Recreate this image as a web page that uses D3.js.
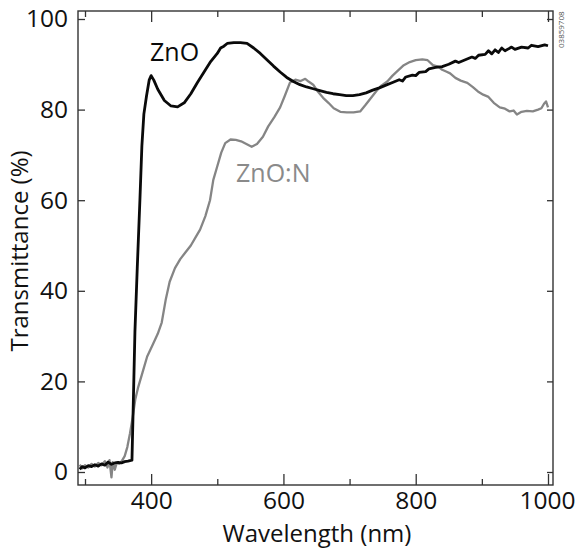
<!DOCTYPE html>
<html>
<head>
<meta charset="utf-8">
<script src="https://cdn.jsdelivr.net/npm/d3@7"></script>
<style>
  html, body { margin: 0; padding: 0; background: #fff; }
  svg { display: block; font-family: "Open Sans", "Noto Sans", sans-serif; }
</style>
</head>
<body>
<svg id="chart" width="575" height="552"></svg>
<script>
// ---- data ----
const seriesNames = ["ZnO", "ZnO:N"];
const znoWavelength = [292,296,300,305,310,315,320,325,330,335,340,345,350,355,360,365,371,373,375.5,379,383,386,389,393,397,400,404,410,420,430,440,450,460,470,480,490,500,505,510,515,525,535,545,555,565,575,585,595,605,615,625,635,645,655,665,675,685,695,705,715,725,735,745,755,765,775,780,785,795,800,805,815,820,830,840,850,860,865,875,885,890,895,905,910,915,920,925,930,935,945,950,960,970,975,985,995,1000];
const znoT = [0.6,1.2,0.9,1.4,1.2,1.6,1.3,1.8,1.5,2.2,1.7,2.0,2.1,2.0,2.3,2.4,2.6,15,31,45,60,72,79,83,86.5,87.5,86.5,84.5,82,80.8,80.6,81.5,83.5,86,88.3,90.6,92.4,93.6,94,94.6,94.8,94.8,94.6,93.6,92.4,91,89.6,88.3,87.1,86.2,85.5,85,84.6,84.2,83.8,83.5,83.3,83.1,83.1,83.3,83.7,84.3,84.8,85.4,86,86.6,86.3,87.2,87.6,87.5,88.2,88.4,89,89.3,89.5,90,90.7,90.4,91,91.6,91.3,92,92.2,93,92.3,93.2,92.6,93.6,93,93.8,93.3,93.8,93.6,94.2,93.9,94.3,94.1];
const znonWavelength = [292,296,300,305,310,315,320,325,330,334,337,340,342,345,348,352,356,360,364,368,372,376,380,387,394,402,410,416,422,428,436,444,452,460,468,474,482,489,494,500,506,512,520,528,536,544,552,560,569,577,586,595,602,610,618,626,633,638,645,652,660,668,676,686,696,706,716,724,732,740,748,757,765,773,782,791,800,810,818,826,834,840,846,852,860,868,878,886,894,902,910,918,927,935,942,948,953,960,968,977,985,990,994,997,1000];
const znonT = [1.6,0.8,1.5,1.0,1.8,1.2,2.0,1.5,2.4,1.0,2.6,-1.2,2.2,0.5,2.0,1.8,2.5,3.5,5.5,8.5,12,16,18.5,22,25.5,28,30.5,33,38,42,45,47,48.5,50,52,53.5,56.5,60,64.5,67.5,70.5,72.6,73.4,73.3,73,72.4,71.8,72.4,74,76.3,78.3,80.5,83,86,86.6,86.3,86.8,86.2,85.5,84,82.6,81.5,80.3,79.5,79.4,79.4,79.6,81,82.5,84,85.3,86.2,87.5,88.6,89.8,90.5,90.9,91.1,90.9,89.8,89.5,88.8,88.4,88,87,86.4,85.9,85,84,83.3,82.8,81.5,80.5,80.2,79.6,79.8,78.9,79.5,79.7,79.6,80,80.3,81.3,81.8,80.5];
const xMajorTicks = [400, 600, 800, 1000];
const xMinorTicks = [300, 500, 700, 900];
const yTicks = [0, 20, 40, 60, 80, 100];
const xTitle = "Wavelength (nm)";
const yTitle = "Transmittance (%)";
const figureId = "03859708";

// ---- layout ----
const frame = { left: 78, right: 553, top: 11, bottom: 485 };
const svg = d3.select("#chart");
const x = d3.scaleLinear().domain([300, 1000]).range([85, 548]);
const y = d3.scaleLinear().domain([0, 100]).range([472, 19]);
const frameColor = "#333";

// clip
svg.append("defs").append("clipPath").attr("id", "clip")
  .append("rect").attr("x", frame.left).attr("y", frame.top)
  .attr("width", frame.right - frame.left).attr("height", frame.bottom - frame.top);

function styleAxis(g) {
  g.select(".domain").remove();
  g.selectAll(".tick line").attr("stroke", frameColor).attr("stroke-width", 1.3);
  g.selectAll(".tick text").attr("fill", "#111").attr("font-size", 24.5)
    .attr("font-family", "\"Open Sans\", sans-serif");
}

// bottom axis
const bottomAxis = svg.append("g").attr("transform", `translate(0,${frame.bottom})`)
  .call(d3.axisBottom(x).tickValues(xMajorTicks).tickSize(-11).tickPadding(7).tickFormat(d3.format("d")))
  .call(styleAxis);
// keep the last label inside the page, as in the reference
bottomAxis.selectAll(".tick text").filter(d => d === 1000).attr("text-anchor", "end").attr("x", 27);
svg.append("g").attr("transform", `translate(0,${frame.bottom})`)
  .call(d3.axisBottom(x).tickValues(xMinorTicks).tickSize(-6).tickFormat(""))
  .call(styleAxis);
// top axis
svg.append("g").attr("transform", `translate(0,${frame.top})`)
  .call(d3.axisTop(x).tickValues(xMajorTicks).tickSize(-11).tickFormat(""))
  .call(styleAxis);
svg.append("g").attr("transform", `translate(0,${frame.top})`)
  .call(d3.axisTop(x).tickValues(xMinorTicks).tickSize(-6).tickFormat(""))
  .call(styleAxis);
// left axis
svg.append("g").attr("transform", `translate(${frame.left},0)`)
  .call(d3.axisLeft(y).tickValues(yTicks).tickSize(-7).tickPadding(10).tickFormat(d3.format("d")))
  .call(styleAxis);
// right axis
svg.append("g").attr("transform", `translate(${frame.right},0)`)
  .call(d3.axisRight(y).tickValues(yTicks).tickSize(-6).tickFormat(""))
  .call(styleAxis);

// frame
svg.append("rect")
  .attr("x", frame.left).attr("y", frame.top)
  .attr("width", frame.right - frame.left).attr("height", frame.bottom - frame.top)
  .attr("fill", "none").attr("stroke", frameColor).attr("stroke-width", 1.4);

// lines
const line = d3.line().x(d => x(d[0])).y(d => y(d[1])).curve(d3.curveLinear);
const znonData = znonWavelength.map((w, i) => [w, znonT[i]]);
const znoData = znoWavelength.map((w, i) => [w, znoT[i]]);
const plot = svg.append("g").attr("clip-path", "url(#clip)");
plot.append("path").datum(znonData).attr("d", line)
  .attr("fill", "none").attr("stroke", "#858585").attr("stroke-width", 2.3)
  .attr("stroke-linejoin", "round");
plot.append("path").datum(znoData).attr("d", line)
  .attr("fill", "none").attr("stroke", "#0a0a0a").attr("stroke-width", 2.8)
  .attr("stroke-linejoin", "round");

// series labels
svg.append("text").attr("x", 150).attr("y", 61).attr("font-size", 25)
  .attr("fill", "#0a0a0a").text(seriesNames[0]);
svg.append("text").attr("x", 236).attr("y", 182).attr("font-size", 25)
  .attr("fill", "#8a8a8a").text(seriesNames[1]);

// axis titles
svg.append("text").attr("x", 317).attr("y", 542).attr("text-anchor", "middle")
  .attr("font-size", 24).attr("fill", "#111").text(xTitle);
svg.append("text").attr("transform", "translate(28,251) rotate(-90)")
  .attr("text-anchor", "middle").attr("font-size", 24).attr("fill", "#111").text(yTitle);

// figure id
svg.append("text").attr("transform", "translate(564,48) rotate(-90)")
  .attr("font-size", 8).attr("fill", "#555").text(figureId);
</script>
</body>
</html>
